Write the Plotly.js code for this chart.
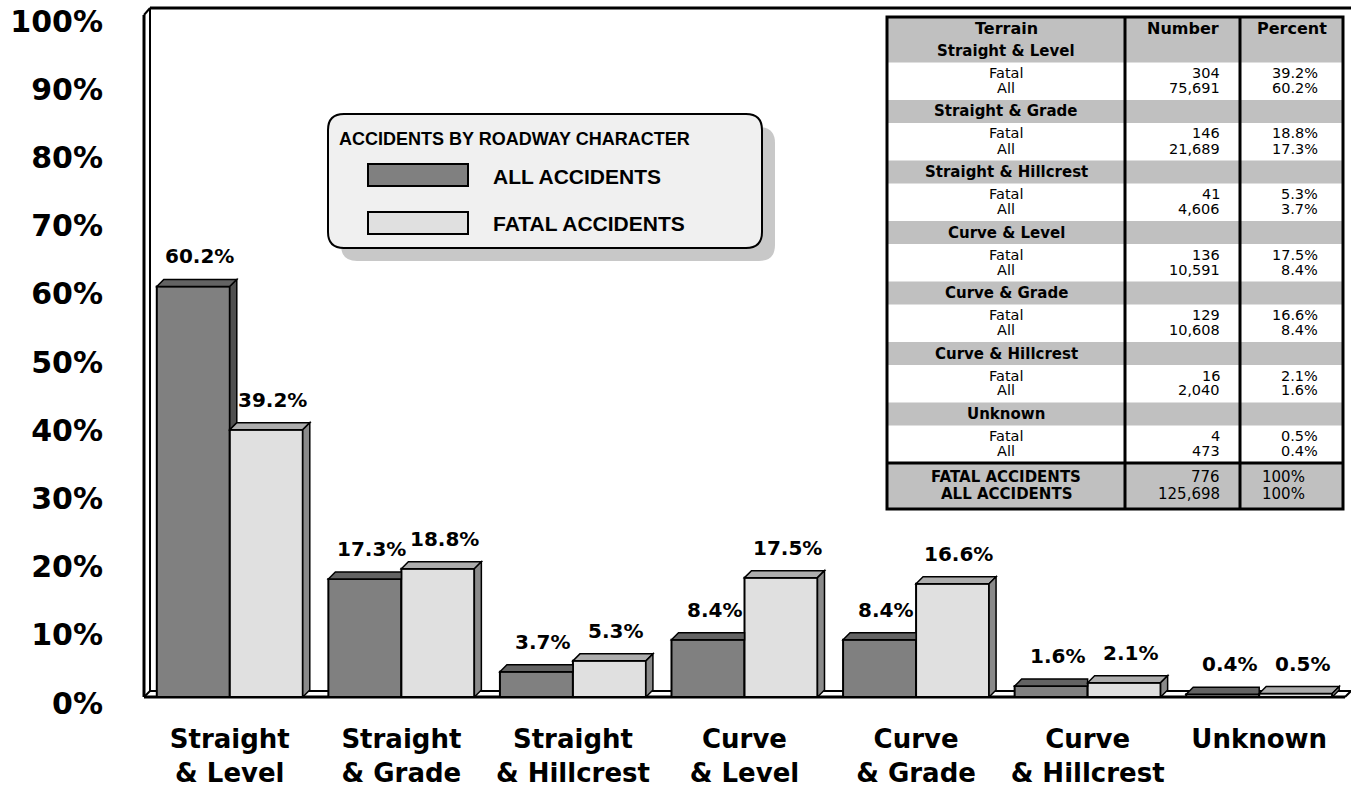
<!DOCTYPE html>
<html>
<head>
<meta charset="utf-8">
<script src="https://cdn.plot.ly/plotly-3.0.1.min.js"></script>
<style>html,body{margin:0;padding:0;background:#fff;}#chart{width:1351px;height:788px;}</style>
</head>
<body>
<div id="chart"></div>
<script>
// ---------------- DATA ----------------
const categories = ['Straight<br>& Level', 'Straight<br>& Grade', 'Straight<br>& Hillcrest', 'Curve<br>& Level', 'Curve<br>& Grade', 'Curve<br>& Hillcrest', 'Unknown'];
const terrains = ['Straight & Level', 'Straight & Grade', 'Straight & Hillcrest', 'Curve & Level', 'Curve & Grade', 'Curve & Hillcrest', 'Unknown'];
const allPct = [60.2, 17.3, 3.7, 8.4, 8.4, 1.6, 0.4];
const fatalPct = [39.2, 18.8, 5.3, 17.5, 16.6, 2.1, 0.5];
const fatalCounts = [304, 146, 41, 136, 129, 16, 4];
const allCounts = [75691, 21689, 4606, 10591, 10608, 2040, 473];
const fatalTotal = 776;
const allTotal = 125698;
const totalPct = '100%';
const yTicks = [0, 10, 20, 30, 40, 50, 60, 70, 80, 90, 100];
const seriesNames = ['ALL ACCIDENTS', 'FATAL ACCIDENTS'];
const legendTitle = 'ACCIDENTS BY ROADWAY CHARACTER';
const tableHeader = ['Terrain', 'Number', 'Percent'];
const rowLabels = ['Fatal', 'All'];
const totalLabels = ['FATAL ACCIDENTS', 'ALL ACCIDENTS'];

// ---------------- GEOMETRY ----------------
const W = 1351, H = 788;
const ML = 144, MR = 6, MT = 15, MB = 91;
const plotW = W - ML - MR, plotH = H - MT - MB;
const pxX = plotW / categories.length;
const pxY = plotH / 100;
const BW = 73 / pxX;
const DX = 7 / pxX, DY = 7 / pxY;
const px = v => (v - ML) / plotW;
const py = v => (H - MB - v) / plotH;

const darkFront = '#808080', darkTop = '#636363', darkSide = '#505050';
const lightFront = '#e0e0e0', lightTop = '#adadad', lightSide = '#8a8a8a';
const DJ = 'DejaVu Sans';

const xIdx = categories.map((_, i) => i);
const fmtPct = v => v.toFixed(1) + '%';
const fmtNum = v => v.toLocaleString('en-US');

const traces = [
  {type: 'bar', x: xIdx, y: allPct, width: BW, offset: -BW, name: seriesNames[0],
   marker: {color: darkFront, line: {color: '#000', width: 2}}, hoverinfo: 'none'},
  {type: 'bar', x: xIdx, y: fatalPct, width: BW, offset: 0, name: seriesNames[1],
   marker: {color: lightFront, line: {color: '#000', width: 2}}, hoverinfo: 'none'}
];

const shapes = [];
const lineShape = (x0, y0, x1, y1, w) => ({type: 'line', xref: 'paper', yref: 'paper', layer: 'below',
  x0: px(x0), y0: py(y0), x1: px(x1), y1: py(y1), line: {color: '#000', width: w}});
// 3D frame (walls and floor)
shapes.push(lineShape(150, 8, 1351, 8, 3));
shapes.push(lineShape(150, 8, 150, 691, 2));
shapes.push(lineShape(144, 15, 144, 697, 3));
shapes.push(lineShape(144, 15, 150, 8, 2));
shapes.push(lineShape(150, 691, 1351, 691, 2));
shapes.push(lineShape(144, 697, 150, 691, 2));
shapes.push(lineShape(144, 697, 1345, 697, 3));
shapes.push(lineShape(1345, 697, 1351, 691, 2));

// 3D faces of bars
const pathShape = (pts, fill) => ({type: 'path', xref: 'x', yref: 'y', layer: 'above',
  path: 'M ' + pts.map(p => p[0] + ',' + p[1]).join(' L ') + ' Z',
  fillcolor: fill, line: {color: '#000', width: 1.5}});
xIdx.forEach(i => {
  const hD = allPct[i], hL = fatalPct[i];
  const dl = i - BW, dr = i;
  if (hL > hD) {
    shapes.push(pathShape([[dl, hD], [dl + DX, hD + DY], [dr, hD + DY], [dr, hD]], darkTop));
  } else {
    shapes.push(pathShape([[dl, hD], [dl + DX, hD + DY], [dr + DX, hD + DY], [dr, hD]], darkTop));
    shapes.push(pathShape([[dr, hL], [dr + DX, hL + DY], [dr + DX, hD + DY], [dr, hD]], darkSide));
  }
  const ll = i, lr = i + BW;
  shapes.push(pathShape([[ll, hL], [ll + DX, hL + DY], [lr + DX, hL + DY], [lr, hL]], lightTop));
  shapes.push(pathShape([[lr, 0], [lr + DX, DY], [lr + DX, hL + DY], [lr, hL]], lightSide));
});

const annotations = [];
// value labels
xIdx.forEach(i => {
  annotations.push({xref: 'x', yref: 'y', x: i - BW / 2 + DX * 0.9, y: allPct[i], yshift: 30,
    text: fmtPct(allPct[i]), showarrow: false, font: {family: DJ, size: 20, weight: 'bold', color: '#000'}});
  annotations.push({xref: 'x', yref: 'y', x: i + BW / 2 + DX * 0.9, y: fatalPct[i], yshift: 30,
    text: fmtPct(fatalPct[i]), showarrow: false, font: {family: DJ, size: 20, weight: 'bold', color: '#000'}});
});

// ---------------- TABLE ----------------
const TL = 887, TR = 1343, C1 = 1125, C2 = 1240, TT = 17, TB = 509;
const HEAD_B = 40, BLOCK = 60.5, GRAY_H = 22.5, TOT_T = 463;
const rectShape = (x0, y0, x1, y1, fill, lw) => ({type: 'rect', xref: 'paper', yref: 'paper', layer: 'above',
  x0: px(x0), y0: py(y0), x1: px(x1), y1: py(y1), fillcolor: fill,
  line: {color: '#000', width: lw || 0}});
const aLine = (x0, y0, x1, y1, w) => Object.assign(lineShape(x0, y0, x1, y1, w), {layer: 'above'});
shapes.push(rectShape(TL, TT, TR, TB, '#ffffff', 0));
shapes.push(rectShape(TL, TT, TR, HEAD_B, '#c0c0c0', 0));
terrains.forEach((t, i) => {
  const s = HEAD_B + BLOCK * i;
  shapes.push(rectShape(TL, s - 0.5, TR, s + GRAY_H, '#c0c0c0', 0));
});
shapes.push(rectShape(TL, TOT_T, TR, TB, '#c0c0c0', 0));
shapes.push(aLine(TL, TOT_T, TR, TOT_T, 3));
shapes.push(aLine(C1, TT, C1, TB, 3));
shapes.push(aLine(C2, TT, C2, TB, 3));
shapes.push(rectShape(TL, TT, TR, TB, 'rgba(0,0,0,0)', 3));

const tAnn = (text, x, y, xanchor, size, bold) => ({xref: 'paper', yref: 'paper', x: px(x), y: py(y),
  xanchor: xanchor, yanchor: 'middle', text: text, showarrow: false, borderpad: 0,
  font: {family: DJ, size: size, weight: bold ? 'bold' : 'normal', color: '#000'}});
annotations.push(tAnn(tableHeader[0], (TL + C1) / 2, 29, 'center', 16, true));
annotations.push(tAnn(tableHeader[1], (C1 + C2) / 2, 29, 'center', 16, true));
annotations.push(tAnn(tableHeader[2], (C2 + TR) / 2, 29, 'center', 16, true));
terrains.forEach((t, i) => {
  const s = HEAD_B + BLOCK * i;
  annotations.push(tAnn(t, (TL + C1) / 2, s + 11, 'center', 15, true));
  annotations.push(tAnn(rowLabels[0], (TL + C1) / 2, s + 33, 'center', 14.5, false));
  annotations.push(tAnn(rowLabels[1], (TL + C1) / 2, s + 48, 'center', 14.5, false));
  annotations.push(tAnn(fmtNum(fatalCounts[i]), 1221, s + 33, 'right', 14.5, false));
  annotations.push(tAnn(fmtNum(allCounts[i]), 1221, s + 48, 'right', 14.5, false));
  annotations.push(tAnn(fmtPct(fatalPct[i]), 1319, s + 33, 'right', 14.5, false));
  annotations.push(tAnn(fmtPct(allPct[i]), 1319, s + 48, 'right', 14.5, false));
});
annotations.push(tAnn(totalLabels[0], (TL + C1) / 2, 477, 'center', 15, true));
annotations.push(tAnn(totalLabels[1], (TL + C1) / 2, 493.5, 'center', 15, true));
annotations.push(tAnn(fmtNum(fatalTotal), 1221, 477, 'right', 15, false));
annotations.push(tAnn(fmtNum(allTotal), 1221, 493.5, 'right', 15, false));
annotations.push(tAnn(totalPct, 1261, 477, 'left', 15, false));
annotations.push(tAnn(totalPct, 1261, 493.5, 'left', 15, false));

// ---------------- LEGEND BOX ----------------
function roundRect(x0, y0, x1, y1, r) {
  const rx = r / plotW, ry = r / plotH;
  const X0 = px(x0), X1 = px(x1), Y0 = py(y0), Y1 = py(y1);
  return 'M ' + (X0 + rx) + ',' + Y0 + ' L ' + (X1 - rx) + ',' + Y0 +
    ' Q ' + X1 + ',' + Y0 + ' ' + X1 + ',' + (Y0 - ry) +
    ' L ' + X1 + ',' + (Y1 + ry) + ' Q ' + X1 + ',' + Y1 + ' ' + (X1 - rx) + ',' + Y1 +
    ' L ' + (X0 + rx) + ',' + Y1 + ' Q ' + X0 + ',' + Y1 + ' ' + X0 + ',' + (Y1 + ry) +
    ' L ' + X0 + ',' + (Y0 - ry) + ' Q ' + X0 + ',' + Y0 + ' ' + (X0 + rx) + ',' + Y0 + ' Z';
}
shapes.push({type: 'path', xref: 'paper', yref: 'paper', layer: 'above', path: roundRect(341, 127, 775, 261, 16),
  fillcolor: '#c8c8c8', line: {width: 0}});
shapes.push({type: 'path', xref: 'paper', yref: 'paper', layer: 'above', path: roundRect(328, 114, 762, 248, 16),
  fillcolor: '#f0f0f0', line: {color: '#000', width: 2}});
shapes.push(rectShape(368, 164, 468, 186, darkFront, 2));
shapes.push(rectShape(368, 212, 468, 234, lightFront, 2));
annotations.push({xref: 'paper', yref: 'paper', x: px(337), y: py(139), xanchor: 'left', yanchor: 'middle',
  text: legendTitle, showarrow: false,
  font: {family: 'Liberation Sans', size: 18, weight: 'bold', color: '#000'}});
annotations.push({xref: 'paper', yref: 'paper', x: px(491), y: py(176), xanchor: 'left', yanchor: 'middle',
  text: seriesNames[0], showarrow: false, font: {family: 'Liberation Sans', size: 21, weight: 'bold', color: '#000'}});
annotations.push({xref: 'paper', yref: 'paper', x: px(491), y: py(224), xanchor: 'left', yanchor: 'middle',
  text: seriesNames[1], showarrow: false, font: {family: 'Liberation Sans', size: 21, weight: 'bold', color: '#000'}});

const layout = {
  width: W, height: H,
  margin: {l: ML, r: MR, t: MT, b: MB, pad: 0},
  paper_bgcolor: '#fff', plot_bgcolor: 'rgba(0,0,0,0)',
  showlegend: false, barmode: 'overlay',
  xaxis: {range: [-0.5, categories.length - 0.5], tickvals: xIdx, ticktext: categories,
    showgrid: false, zeroline: false, showline: false, ticks: '', automargin: false,
    ticklabelstandoff: 24, tickfont: {family: DJ, size: 26, weight: 'bold', color: '#000'}, fixedrange: true},
  yaxis: {range: [0, 100], tickvals: yTicks, ticktext: yTicks.map(v => v + '%'),
    showgrid: false, zeroline: false, showline: false, ticks: '', automargin: false,
    ticklabelstandoff: 40, ticklabelshift: 6,
    tickfont: {family: DJ, size: 30, weight: 'bold', color: '#000'}, fixedrange: true},
  shapes: shapes, annotations: annotations
};
Plotly.newPlot('chart', traces, layout, {displayModeBar: false, staticPlot: true});
</script>
</body>
</html>
